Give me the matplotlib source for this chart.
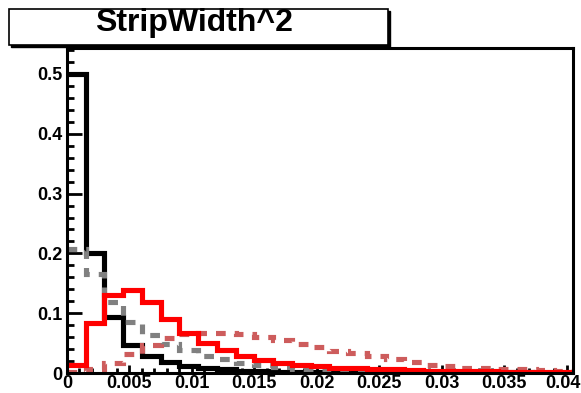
import numpy as np
import matplotlib
matplotlib.use("Agg")
import matplotlib.pyplot as plt
from matplotlib.patches import Rectangle
from matplotlib.ticker import MultipleLocator, FuncFormatter

plt.rcParams['font.family'] = ['Liberation Sans', 'DejaVu Sans']
plt.rcParams['font.weight'] = 'bold'
plt.rcParams['lines.scale_dashes'] = False

# histogram binning: 27 bins of 0.0015 (0 .. 0.0405)
bin_width = 0.0015
n_bins = 27
edges = np.arange(n_bins + 1) * bin_width

black_vals = [0.500, 0.200, 0.093, 0.047, 0.028, 0.018, 0.011, 0.008, 0.006,
              0.004, 0.003, 0.0025, 0.002, 0.0015, 0.0012, 0.001, 0.001, 0.0008,
              0.0007, 0.0006, 0.0005, 0.0005, 0.0004, 0.0004, 0.0003, 0.0003, 0.0003]
grey_vals = [0.207, 0.166, 0.119, 0.086, 0.064, 0.049, 0.038, 0.028, 0.023,
             0.017, 0.013, 0.010, 0.007, 0.006, 0.005, 0.004, 0.003, 0.003,
             0.002, 0.002, 0.0015, 0.0015, 0.001, 0.001, 0.001, 0.0008, 0.0008]
red_vals = [0.013, 0.084, 0.130, 0.139, 0.119, 0.090, 0.067, 0.051, 0.038,
            0.029, 0.022, 0.017, 0.013, 0.011, 0.009, 0.008, 0.007, 0.006,
            0.005, 0.004, 0.004, 0.003, 0.003, 0.002, 0.002, 0.002, 0.002]
pink_vals = [0.002, 0.007, 0.017, 0.032, 0.047, 0.058, 0.065, 0.067, 0.067,
             0.065, 0.060, 0.055, 0.049, 0.043, 0.037, 0.033, 0.028, 0.023,
             0.018, 0.014, 0.011, 0.009, 0.008, 0.007, 0.006, 0.005, 0.004]

fig = plt.figure(figsize=(5.81, 3.93), dpi=100)
ax = fig.add_axes([67/581, 20/393, 506/581, 325.5/393])

lw = 3.7
dash = (0, (7, 6.5))
ax.stairs(black_vals, edges, baseline=None, color='black', lw=lw, zorder=2)
ax.stairs(grey_vals, edges, baseline=None, color='#808080', lw=lw,
          linestyle=dash, zorder=3)
ax.stairs(pink_vals, edges, baseline=None, color='#cd5c5c', lw=lw,
          linestyle=dash, zorder=4)
ax.stairs(red_vals, edges, baseline=None, color='#ff0000', lw=lw, zorder=5)

ax.set_xlim(0, edges[-1])
ax.set_ylim(0, 0.5443)

ax.xaxis.set_major_locator(MultipleLocator(0.005))
ax.xaxis.set_minor_locator(MultipleLocator(0.001))
ax.yaxis.set_major_locator(MultipleLocator(0.1))
ax.yaxis.set_minor_locator(MultipleLocator(0.02))
# last x label (0.04) is placed by hand so it stays inside the picture
ax.xaxis.set_major_formatter(FuncFormatter(
    lambda v, p: '' if v > 0.0399 else '%g' % round(v, 4)))
ax.yaxis.set_major_formatter(FuncFormatter(lambda v, p: '%g' % round(v, 4)))

ax.tick_params(axis='both', which='both', direction='in', top=False, right=False,
               width=2, labelsize=13)
ax.tick_params(axis='x', which='major', length=6, pad=1.5)
ax.tick_params(axis='x', which='minor', length=3.5)
ax.tick_params(axis='y', which='major', length=11, pad=3)
ax.tick_params(axis='y', which='minor', length=5)
for lab in ax.get_xticklabels() + ax.get_yticklabels():
    lab.set_fontweight('bold')
ax.annotate('0.04', xy=(0.04, 0), xycoords=('data', 'axes fraction'),
            xytext=(-3, -1.5), textcoords='offset points', ha='center', va='top',
            fontsize=13, fontweight='bold', annotation_clip=False)

for s in ax.spines.values():
    s.set_linewidth(2.2)
    s.set_zorder(6)

# title box with shadow
bx, by, bw, bh = 9/581, 348/393, 379/581, 36/393
fig.patches.append(Rectangle((bx + 2/581, by - 2/393), bw, bh, transform=fig.transFigure,
                             facecolor='black', edgecolor='black', zorder=10))
fig.patches.append(Rectangle((bx, by), bw, bh, transform=fig.transFigure,
                             facecolor='white', edgecolor='black', lw=1.2, zorder=11))
fig.text(194/581, 1 - 23/393, 'StripWidth^2', ha='center', va='center',
         fontsize=23, fontweight='bold', zorder=12)

fig.savefig('out.png', dpi=100)
